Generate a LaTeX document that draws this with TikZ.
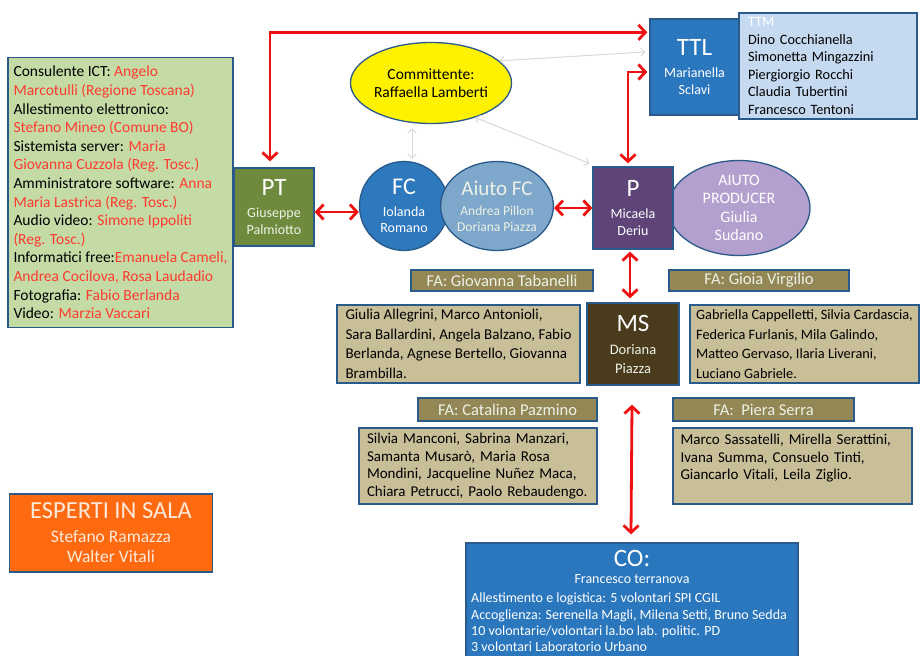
\documentclass[tikz,border=0pt]{standalone}
\usepackage{fontspec}
\setmainfont{Carlito}
\usetikzlibrary{arrows.meta,shapes.geometric}
\definecolor{bordblue}{HTML}{2A5A8A}
\definecolor{greenbox}{HTML}{C4DBA6}
\definecolor{ptgreen}{HTML}{6E8B3D}
\definecolor{fcblue}{HTML}{2E78BD}
\definecolor{afcblue}{HTML}{7DA7CB}
\definecolor{pviolet}{HTML}{5E4479}
\definecolor{aprod}{HTML}{B4A0CF}
\definecolor{ttlblue}{HTML}{2B77BE}
\definecolor{ttmfill}{HTML}{C5DAF0}
\definecolor{fafill}{HTML}{928755}
\definecolor{tanfill}{HTML}{C8BE98}
\definecolor{msbrown}{HTML}{4A3B1C}
\definecolor{orangebox}{HTML}{FF6A10}
\definecolor{redtxt}{HTML}{FF3B2F}
\definecolor{arrred}{HTML}{EE1111}
\definecolor{lighttxt}{HTML}{EEF2E6}
\definecolor{peach}{HTML}{FDE9D9}
\newcommand\fsz[2]{\fontsize{#1}{#2}\selectfont}
\newcommand\rt[1]{\textcolor{redtxt}{#1}}
\begin{document}
\begin{tikzpicture}[x=1pt,y=-1pt,
  box/.style={draw=bordblue, line width=1.3pt, inner sep=0pt, align=center},
  ell/.style={ellipse, draw=bordblue, line width=1.3pt, inner sep=0pt, align=center},
  falabel/.style={box, fill=fafill, text=lighttxt, font=\fsz{16.5}{18}},
  tanbox/.style={box, fill=tanfill, align=left, font=\fsz{15}{19.5}},
  redarr/.style={draw=arrred, line width=2.8pt, {Straight Barb[length=7pt,width=15pt]}-{Straight Barb[length=7pt,width=15pt]}},
  grayarr/.style={draw=black!15, line width=1pt, {Straight Barb[length=4pt,width=8pt]}-{Straight Barb[length=4pt,width=8pt]}}
]
\useasboundingbox (0,0) rectangle (922,656);
\fill[white] (0,0) rectangle (922,656);

% left green box
\node[box, fill=greenbox, minimum width=225pt, minimum height=270pt, align=left, font=\fsz{15.5}{18.6}] (ict) at (120.5,192.5) {Consulente ICT: \rt{Angelo}\\
\rt{Marcotulli (Regione Toscana)}\\
Allestimento elettronico:\\
\rt{Stefano Mineo (Comune BO)}\\
Sistemista server: \rt{Maria}\\
\rt{Giovanna Cuzzola (Reg. Tosc.)}\\
Amministratore software: \rt{Anna}\\
\rt{Maria Lastrica (Reg. Tosc.)}\\
Audio video: \rt{Simone Ippoliti}\\
\rt{(Reg. Tosc.)}\\
Informatici free:\rt{Emanuela Cameli,}\\
\rt{Andrea Cocilova, Rosa Laudadio}\\
Fotografia: \rt{Fabio Berlanda}\\
Video: \rt{Marzia Vaccari}};

% PT
\node[box, fill=ptgreen, minimum width=80pt, minimum height=78pt, text=lighttxt, font=\fsz{14}{17}] (PT) at (274,207) {\fsz{25}{25}\textcolor{white}{PT}\\[5pt]Giuseppe\\Palmiotto};

% Committente
\node[ell, fill=yellow, minimum width=142pt, minimum height=81pt, font=\fsz{15.5}{17.5}] (Comm) at (431,83) {Committente:\\Raffaella Lamberti};

% FC and Aiuto FC
\node[circle, draw=bordblue, line width=1.3pt, fill=fcblue, minimum size=89pt, inner sep=0pt, align=center, text=white, font=\fsz{14}{16.5}] (FC) at (404,206) {\fsz{24}{24}FC\\[5pt]Iolanda\\Romano};
\node[ell, fill=afcblue, minimum width=97pt, minimum height=89pt, text=lighttxt, font=\fsz{13.5}{16}] (AFC) at (497,206) {\fsz{21}{21}Aiuto FC\\[4pt]Andrea Pillon\\Doriana Piazza};

% Aiuto producer and P
\node[ell, fill=aprod, minimum width=142pt, minimum height=95pt, text=white, font=\fsz{16}{18.5}] (AP) at (739,208) {AIUTO\\PRODUCER\\Giulia\\Sudano};
\node[box, fill=pviolet, minimum width=80pt, minimum height=82pt, text=white, font=\fsz{14}{17}] (P) at (633,208) {\fsz{25}{25}P\\[5pt]Micaela\\Deriu};

% TTL and TTM
\node[box, fill=ttlblue, minimum width=89pt, minimum height=96pt, text=white, font=\fsz{14}{17}] (TTL) at (694.5,67) {\fsz{25}{25}TTL\\[5pt]Marianella\\Sclavi};
\node[box, fill=ttmfill, minimum width=178pt, minimum height=106pt, text width=160pt, align=left, font=\fsz{14.3}{17.6}] (TTM) at (828,66) {\textcolor{white}{TTM}\\Dino Cocchianella\\Simonetta Mingazzini\\Piergiorgio Rocchi\\Claudia Tubertini\\Francesco Tentoni};

% FA labels
\node[falabel, minimum width=182pt, minimum height=21pt] (FA1) at (502,280.5) {FA: Giovanna Tabanelli};
\node[falabel, minimum width=180pt, minimum height=21pt] (FA2) at (759,280.5) {FA: Gioia Virgilio};
\node[falabel, minimum width=179pt, minimum height=23pt] (FA3) at (507.5,409.5) {FA: Catalina Pazmino};
\node[falabel, minimum width=181pt, minimum height=23pt] (FA4) at (763.5,409.5) {FA:\ \ Piera Serra};

% tan boxes
\node[tanbox, minimum width=243pt, minimum height=78pt] (T1) at (458.5,344) {Giulia Allegrini, Marco Antonioli,\\Sara Ballardini, Angela Balzano, Fabio\\Berlanda, Agnese Bertello, Giovanna\\Brambilla.};
\node[tanbox, minimum width=229pt, minimum height=78pt, font=\fsz{14.3}{19.5}] (T2) at (804.5,344) {Gabriella Cappelletti, Silvia Cardascia,\\Federica Furlanis, Mila Galindo,\\Matteo Gervaso, Ilaria Liverani,\\Luciano Gabriele.};
\node[tanbox, minimum width=238pt, minimum height=76pt, text width=222pt, font=\fsz{15}{17.5}] (T3) at (478,466) {Silvia Manconi, Sabrina Manzari,\\Samanta Musarò, Maria Rosa\\Mondini, Jacqueline Nuñez Maca,\\Chiara Petrucci, Paolo Rebaudengo.};
\node[tanbox, minimum width=239pt, minimum height=76pt, text width=224pt, font=\fsz{15}{17.5}] (T4) at (792.5,466) {Marco Sassatelli, Mirella Serattini,\\Ivana Summa, Consuelo Tinti,\\Giancarlo Vitali, Leila Ziglio.\\\mbox{}};

% MS
\node[box, fill=msbrown, minimum width=92pt, minimum height=82pt, text=lighttxt, font=\fsz{14.5}{19}] (MS) at (633,344) {\fsz{25}{25}\textcolor{white}{MS}\\[4pt]Doriana\\Piazza};

% CO
\node[box, fill=ttlblue, minimum width=332pt, minimum height=122pt] (CO) at (632,604) {};
\node[text=white, align=center, inner sep=0pt, font=\fsz{14}{17}] (COt) at (632,567) {\fsz{25}{25}CO:\\[0pt]Francesco terranova};
\node[text=white, align=left, anchor=north west, inner sep=0pt, font=\fsz{14}{16.3}] (COl) at (471,593) {Allestimento e logistica: 5 volontari SPI CGIL\\Accoglienza: Serenella Magli, Milena Setti, Bruno Sedda\\10 volontarie/volontari la.bo lab. politic. PD\\3 volontari Laboratorio Urbano};

% Esperti
\node[box, fill=orangebox, minimum width=203pt, minimum height=78pt, text=peach, font=\fsz{17.5}{20.5}] (ESP) at (111,533) {\fsz{24.5}{24.5}ESPERTI IN SALA\\[3pt]Stefano Ramazza\\Walter Vitali};

% red arrows
\draw[redarr] ([xshift=-4pt,yshift=6pt]PT.north) |- ([xshift=-2pt,yshift=-14pt]TTL.north west);
\draw[redarr] ([xshift=-5pt,yshift=3pt]P.north) |- ([xshift=-2pt,yshift=-5pt]TTL.west);
\draw[redarr] ([yshift=-5pt]PT.east) -- ([yshift=-5pt]PT.east -| FC.west);
\draw[redarr] ([yshift=-2pt]AFC.east) -- ([yshift=-2pt]AFC.east -| P.west);
\draw[redarr] ([xshift=-3pt,yshift=-2pt]P.south) -- ([xshift=-3pt,yshift=4pt]MS.north);
\draw[redarr] ([xshift=-1pt,yshift=-19pt]MS.south) -- ([xshift=-1pt,yshift=8pt]CO.north);

% gray arrows
\draw[grayarr] (Comm.18) -- ([xshift=-4pt,yshift=15pt]TTL.west);
\draw[grayarr] (Comm.-38) -- ([xshift=-3pt,yshift=3pt]P.north west);
\draw[grayarr] ([xshift=8pt,yshift=2pt]FC.north) -- ([xshift=8pt,yshift=-4pt]FC.north |- Comm.south);
\end{tikzpicture}
\end{document}
